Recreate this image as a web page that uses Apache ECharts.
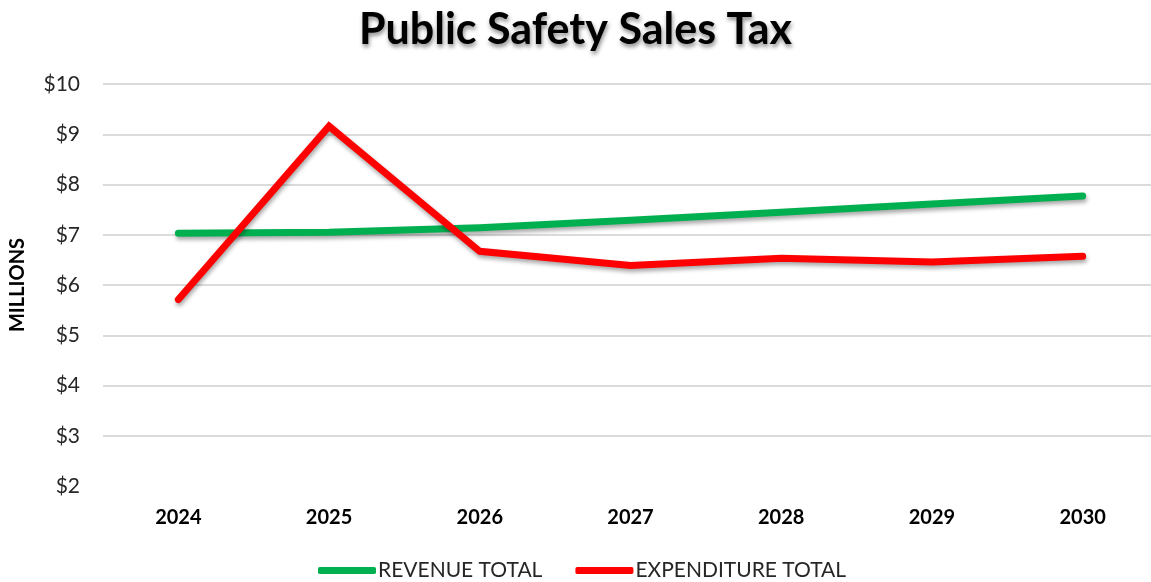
<!DOCTYPE html>
<html>
<head>
<meta charset="utf-8">
<script src="https://cdn.jsdelivr.net/npm/echarts@6/dist/echarts.min.js"></script>
<style>
html,body{margin:0;padding:0;background:#fff;}
#chart{width:1151px;height:582px;}
</style>
</head>
<body>
<div id="chart"></div>
<script>
const titleText = 'Public Safety Sales Tax';
const categories = ['2024', '2025', '2026', '2027', '2028', '2029', '2030'];
const revenueTotal = [7.03, 7.05, 7.14, 7.29, 7.45, 7.61, 7.77];
const expenditureTotal = [5.71, 9.16, 6.67, 6.39, 6.53, 6.46, 6.57];
const seriesNames = ['REVENUE TOTAL', 'EXPENDITURE TOTAL'];
const yAxisName = 'MILLIONS';

const chart = echarts.init(document.getElementById('chart'), null, {renderer: 'canvas'});
const lineShadow = {shadowColor: 'rgba(0,0,0,0.35)', shadowBlur: 4, shadowOffsetX: 1, shadowOffsetY: 3};
chart.setOption({
  animation: false,
  backgroundColor: '#ffffff',
  title: {
    text: titleText,
    left: 'center',
    top: 4,
    textStyle: {
      fontFamily: 'Lato',
      fontWeight: 'bold',
      fontSize: 43,
      color: '#000',
      textShadowColor: 'rgba(0,0,0,0.45)',
      textShadowBlur: 4,
      textShadowOffsetX: 1,
      textShadowOffsetY: 3
    }
  },
  legend: {
    bottom: -4,
    left: 313,
    itemWidth: 58,
    itemHeight: 7,
    itemGap: 33,
    icon: 'roundRect',
    textStyle: {fontFamily: 'Lato', fontSize: 21, color: '#262626', padding: [0, 0, 0, -3]},
    data: seriesNames
  },
  grid: {left: 103, right: -7, top: 84, bottom: 96, containLabel: false, outerBoundsMode: 'none'},
  xAxis: {
    type: 'category',
    data: categories,
    boundaryGap: true,
    axisLine: {show: false},
    axisTick: {show: false},
    axisLabel: {
      margin: 22,
      fontFamily: 'Lato',
      fontWeight: 'bold',
      fontSize: 20,
      color: '#000'
    }
  },
  yAxis: {
    type: 'value',
    min: 2,
    max: 10,
    interval: 1,
    name: yAxisName,
    nameLocation: 'middle',
    nameGap: 75,
    nameRotate: 90,
    nameTextStyle: {fontFamily: 'Lato', fontWeight: 'bold', fontSize: 20, color: '#000'},
    axisLine: {show: false},
    axisTick: {show: false},
    axisLabel: {
      margin: 23,
      fontFamily: 'Lato',
      fontSize: 21,
      color: '#262626',
      formatter: v => '$' + v
    },
    splitLine: {show: true, showMinLine: false, lineStyle: {color: '#cfcfcf', width: 1.5}}
  },
  series: [
    {
      name: seriesNames[0],
      type: 'line',
      data: revenueTotal,
      symbol: 'none',
      color: '#00B050',
      lineStyle: Object.assign({width: 7, color: '#00B050', cap: 'round', join: 'round'}, lineShadow),
      z: 2
    },
    {
      name: seriesNames[1],
      type: 'line',
      data: expenditureTotal,
      symbol: 'none',
      color: '#FF0000',
      lineStyle: Object.assign({width: 7, color: '#FF0000', cap: 'round', join: 'miter'}, lineShadow),
      z: 3
    }
  ]
});
</script>
</body>
</html>
